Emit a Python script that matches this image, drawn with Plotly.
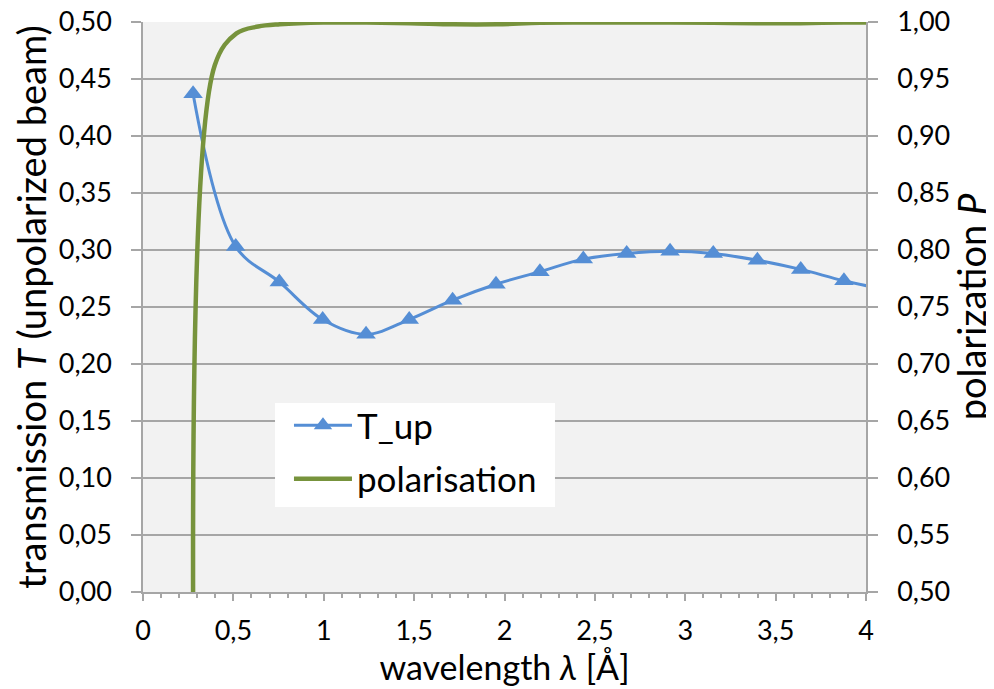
import plotly.graph_objects as go

# ---- data ----
t_wavelength = [0.277, 0.513, 0.754, 0.994, 1.234, 1.473, 1.713, 1.953, 2.196,
                2.436, 2.676, 2.916, 3.155, 3.399, 3.639, 3.878, 4.118]
t_up = [0.437, 0.303, 0.272, 0.239, 0.226, 0.239, 0.256, 0.270, 0.281,
        0.292, 0.297, 0.299, 0.297, 0.291, 0.283, 0.273, 0.265]

p_wavelength = [0.277, 0.397, 0.517, 0.637, 0.757, 0.997, 1.237, 1.477, 1.717,
                1.957, 2.197, 2.437, 2.677, 2.917, 3.157, 3.397, 3.637, 3.877, 4.117]
polarisation = [0.50, 0.962, 0.990, 0.996, 0.998, 0.9995, 0.9995, 0.999, 0.998,
                0.998, 0.9993, 0.9995, 0.9995, 0.9995, 0.9993, 0.999, 0.999, 0.9995, 0.9995]

x_range = [0, 4]
y_left_range = [0, 0.5]
y_right_range = [0.5, 1.0]

BLUE = "#558ed5"
GREEN = "#77933c"
GRID = "#a6a6a6"
FONT = "Lato, 'Noto Sans', sans-serif"

fig = go.Figure()
fig.add_trace(go.Scatter(
    x=t_wavelength, y=t_up, name="T_up", mode="lines+markers",
    line=dict(color=BLUE, width=3, shape="spline"),
    marker=dict(symbol="triangle-up", size=17, color=BLUE),
    cliponaxis=True, legendgroup="t",
))
fig.add_trace(go.Scatter(
    x=p_wavelength, y=polarisation, name="polarisation", mode="lines",
    line=dict(color=GREEN, width=4.5, shape="spline"),
    yaxis="y2", cliponaxis=True, legendgroup="p",
))

tickfont = dict(family=FONT, size=27, color="black")
xtitlefont = dict(family=FONT, size=34, color="black")
ytitlefont = dict(family=FONT, size=38, color="black")

# white legend panel (page has an 8 px body offset, compensated in margins)
fig.add_shape(type="rect", xref="paper", yref="paper",
              x0=0.1826, x1=0.5698, y0=0.1491, y1=0.3316,
              fillcolor="white", line=dict(width=0), layer="above")

fig.update_layout(
    width=986, height=681,
    margin=dict(l=135, r=128, t=14, b=97, autoexpand=False),
    paper_bgcolor="white", plot_bgcolor="#f2f2f2",
    separators=",.",
    font=dict(family=FONT, color="black"),
    xaxis=dict(
        range=x_range, dtick=0.5, showgrid=False, zeroline=False, automargin=False,
        showline=True, linecolor=GRID, linewidth=1.5,
        ticks="outside", ticklen=7, tickcolor=GRID, tickwidth=1.5,
        minor=dict(dtick=0.1, ticks="outside", ticklen=4, tickcolor=GRID, tickwidth=1.5),
        tickfont=tickfont, ticklabelstandoff=7, ticklabeloverflow="allow",
        title=dict(text="wavelength <i>λ</i> [Å]", font=xtitlefont, standoff=4),
    ),
    xaxis2=dict(
        range=x_range, dtick=0.5, overlaying="x", anchor="y", side="bottom",
        showgrid=False, zeroline=False, showticklabels=False, automargin=False,
        ticks="inside", ticklen=5, tickcolor=GRID, tickwidth=1.5,
    ),
    yaxis=dict(
        range=y_left_range, dtick=0.05, tickformat=".2f", automargin=False,
        showgrid=True, gridcolor=GRID, gridwidth=1.5, zeroline=False,
        showline=True, linecolor=GRID, linewidth=1.5,
        ticks="outside", ticklen=10, tickcolor=GRID, tickwidth=1.5,
        tickfont=tickfont, ticklabelstandoff=14, ticklabeloverflow="allow",
        title=dict(text="transmission <i>T</i> (unpolarized beam)", font=ytitlefont, standoff=6),
    ),
    yaxis2=dict(
        range=y_right_range, dtick=0.05, tickformat=".2f", automargin=False,
        overlaying="y", side="right", anchor="x",
        showgrid=False, zeroline=False,
        showline=True, linecolor=GRID, linewidth=1.5,
        ticks="outside", ticklen=10, tickcolor=GRID, tickwidth=1.5,
        tickfont=tickfont, ticklabelstandoff=14, ticklabeloverflow="allow",
        title=dict(text="polarization <i>P</i>", font=ytitlefont, standoff=9),
    ),
    legend=dict(
        x=0.2019, y=0.3439, xanchor="left", yanchor="top",
        bgcolor="rgba(0,0,0,0)", borderwidth=0,
        font=dict(family=FONT, size=35, color="black"),
        itemwidth=58, tracegroupgap=5,
    ),
    showlegend=True,
)

fig.write_html("out.html")
